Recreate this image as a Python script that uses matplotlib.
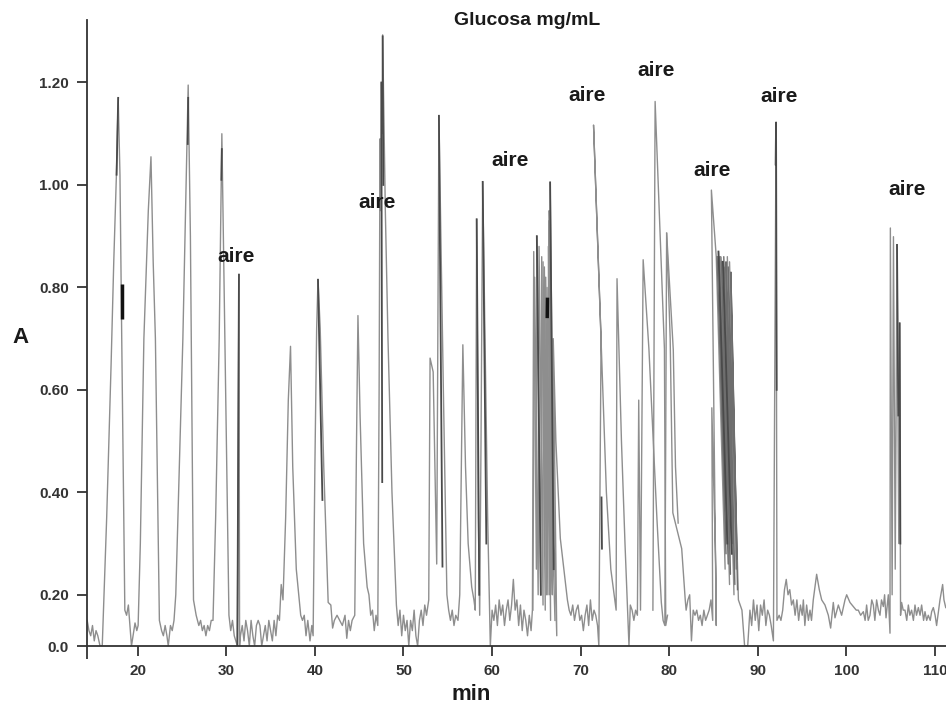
import matplotlib
matplotlib.use('Agg')
import matplotlib.pyplot as plt
import numpy as np

plt.rcParams['font.family'] = ['Liberation Sans', 'DejaVu Sans']

# chromatogram trace (min, A), split by region
trace_15_31 = [
    (14.3, 0.15), (14.5, 0.13), (14.7, 0.12), (14.9, 0.14), (15.1, 0.11), (15.3, 0.13),
    (15.5, 0.12), (15.75, 0.10), (16.0, 0.10), (16.5, 0.35), (17.0, 0.65), (17.3, 0.85),
    (17.6, 1.02), (17.8, 1.17), (18.0, 1.02), (18.2, 0.70), (18.55, 0.17), (18.75, 0.16),
    (18.95, 0.18), (19.3, 0.10), (19.7, 0.145), (19.9, 0.13), (20.05, 0.14),
    (20.3, 0.30), (20.7, 0.70), (21.2, 0.95), (21.5, 1.055), (21.75, 0.85), (22.0, 0.70),
    (22.45, 0.15), (22.7, 0.13), (22.9, 0.12), (23.1, 0.14), (23.3, 0.12), (23.45, 0.10),
    (23.7, 0.14), (23.9, 0.13), (24.1, 0.15), (24.3, 0.20),
    (24.7, 0.45), (25.1, 0.70), (25.4, 0.95), (25.7, 1.195), (25.95, 0.90), (26.05, 0.70),
    (26.3, 0.19), (26.6, 0.16), (26.9, 0.14), (27.1, 0.15), (27.3, 0.13), (27.5, 0.14),
    (27.7, 0.12), (27.9, 0.14), (28.1, 0.13), (28.3, 0.15), (28.5, 0.15),
    (28.8, 0.35), (29.2, 0.70), (29.5, 1.10), (29.8, 0.75), (30.3, 0.16), (30.5, 0.13),
    (30.7, 0.15), (30.9, 0.12), (31.25, 0.10), (31.43, 0.825), (31.5, 0.10),
]
trace_31_47 = [
    (31.6, 0.12), (31.8, 0.14), (32.0, 0.11), (32.2, 0.15), (32.4, 0.13), (32.6, 0.10),
    (32.8, 0.15), (33.0, 0.12), (33.2, 0.10), (33.4, 0.14), (33.6, 0.15), (33.8, 0.14),
    (34.0, 0.10), (34.2, 0.12), (34.4, 0.14), (34.6, 0.11), (34.8, 0.15), (35.0, 0.13),
    (35.2, 0.11), (35.4, 0.15), (35.6, 0.12), (35.8, 0.16), (36.0, 0.15), (36.2, 0.22),
    (36.4, 0.19), (36.7, 0.35), (37.0, 0.58), (37.25, 0.685), (37.5, 0.45), (37.9, 0.25),
    (38.4, 0.16), (38.6, 0.15), (38.8, 0.16), (39.0, 0.12), (39.2, 0.15), (39.45, 0.11),
    (39.65, 0.14), (39.8, 0.12),
    (40.0, 0.45), (40.2, 0.72), (40.35, 0.815), (40.6, 0.72), (41.0, 0.45), (41.5, 0.185),
    (41.8, 0.18), (42.0, 0.135), (42.2, 0.15), (42.5, 0.16), (42.8, 0.15), (43.1, 0.14),
    (43.4, 0.16), (43.6, 0.115), (43.8, 0.15), (44.0, 0.13), (44.2, 0.15), (44.5, 0.16),
    (44.7, 0.50), (44.86, 0.745), (45.1, 0.55), (45.5, 0.30), (45.9, 0.215), (46.1, 0.20),
    (46.3, 0.16), (46.5, 0.17), (46.7, 0.13), (46.9, 0.16), (47.1, 0.14),
]
trace_47_64 = [
    (47.25, 0.60), (47.35, 1.09), (47.42, 0.95), (47.52, 1.20), (47.58, 1.10), (47.65, 1.293),
    (47.95, 0.95), (48.25, 0.70), (48.7, 0.40), (49.2, 0.18),
    (49.4, 0.14), (49.6, 0.17), (49.8, 0.12), (50.0, 0.16), (50.2, 0.13), (50.4, 0.15),
    (50.6, 0.10), (50.8, 0.15), (51.0, 0.13), (51.2, 0.17), (51.4, 0.12), (51.6, 0.10),
    (51.8, 0.15), (52.0, 0.17), (52.2, 0.14), (52.4, 0.18), (52.6, 0.16), (52.85, 0.19),
    (53.0, 0.662), (53.35, 0.635), (53.75, 0.26), (54.0, 1.135), (54.5, 0.60), (54.9, 0.20),
    (55.1, 0.17), (55.3, 0.15), (55.5, 0.17), (55.7, 0.14), (55.9, 0.16), (56.15, 0.15),
    (56.35, 0.20), (56.7, 0.688), (57.0, 0.45), (57.3, 0.30), (57.7, 0.215), (57.95, 0.19),
    (58.1, 0.17), (58.26, 0.933), (58.45, 0.35), (58.6, 0.16), (58.75, 0.50), (58.94, 1.006),
    (59.2, 0.70), (59.5, 0.35), (59.8, 0.10),
    (60.0, 0.17), (60.2, 0.15), (60.4, 0.18), (60.6, 0.14), (60.8, 0.19), (61.0, 0.16),
    (61.2, 0.18), (61.4, 0.14), (61.6, 0.17), (61.8, 0.19), (62.0, 0.15), (62.2, 0.18),
    (62.4, 0.23), (62.6, 0.17), (62.8, 0.19), (63.0, 0.14), (63.2, 0.18), (63.4, 0.13),
    (63.6, 0.17), (63.8, 0.15), (64.0, 0.12), (64.2, 0.16), (64.4, 0.13), (64.55, 0.17),
]
trace_64_82 = [
    (64.7, 0.87), (65.0, 0.25), (65.05, 0.90), (65.5, 0.20), (65.6, 0.86), (66.0, 0.17),
    (65.9, 0.84), (66.3, 0.20), (66.2, 0.80), (66.6, 0.15), (66.4, 0.93), (66.7, 0.25),
    (66.55, 1.005), (67.0, 0.30), (67.3, 0.12), (66.9, 0.70), (67.2, 0.50), (67.7, 0.31),
    (68.5, 0.19), (68.7, 0.17), (68.9, 0.16), (69.1, 0.18), (69.3, 0.15), (69.5, 0.17),
    (69.7, 0.18), (69.9, 0.15), (70.1, 0.16), (70.3, 0.13), (70.5, 0.16), (70.7, 0.18),
    (70.9, 0.14), (71.1, 0.19), (71.3, 0.15), (71.5, 0.17), (71.7, 0.16), (71.9, 0.14),
    (72.05, 0.10), (72.3, 0.70), (71.45, 1.117), (72.35, 0.68), (72.9, 0.40), (73.4, 0.25),
    (73.85, 0.19), (74.0, 0.17), (74.1, 0.817), (74.6, 0.50), (75.0, 0.30), (75.45, 0.10),
    (75.6, 0.18), (75.8, 0.17), (76.0, 0.15), (76.2, 0.17), (76.4, 0.16), (76.55, 0.58),
    (76.75, 0.17), (77.05, 0.854), (77.7, 0.68), (78.6, 0.35), (79.1, 0.185), (79.3, 0.15),
    (79.5, 0.14), (79.7, 0.906), (80.1, 0.70), (80.4, 0.36), (81.4, 0.29), (81.8, 0.19),
]
trace_82_95 = [
    (81.9, 0.17), (82.1, 0.19), (82.3, 0.20), (82.5, 0.11), (82.7, 0.17), (82.9, 0.16),
    (83.1, 0.17), (83.3, 0.15), (83.5, 0.16), (83.7, 0.14), (83.9, 0.17), (84.1, 0.15),
    (84.3, 0.16), (84.5, 0.17), (84.7, 0.19), (84.9, 0.15),
    (84.8, 0.565), (85.25, 0.25), (85.3, 0.14), (84.75, 0.99), (85.3, 0.86), (86.3, 0.25),
    (85.55, 0.87), (86.55, 0.30), (85.8, 0.86), (86.8, 0.22), (86.05, 0.85), (87.05, 0.28),
    (86.3, 0.84), (87.3, 0.20), (86.55, 0.86), (87.55, 0.25), (86.8, 0.85), (87.8, 0.19),
    (88.2, 0.17), (88.5, 0.10), (88.85, 0.10), (89.1, 0.17),
    (89.3, 0.14), (89.5, 0.19), (89.7, 0.15), (89.9, 0.18), (90.1, 0.13), (90.3, 0.18),
    (90.5, 0.16), (90.7, 0.19), (90.9, 0.14), (91.1, 0.17), (91.3, 0.16), (91.5, 0.14),
    (91.75, 0.11), (92.05, 1.122), (92.15, 0.15), (92.4, 0.16), (92.6, 0.15), (92.8, 0.17),
    (93.0, 0.21), (93.2, 0.23), (93.4, 0.20), (93.6, 0.21), (93.8, 0.18), (94.0, 0.19),
    (94.2, 0.16), (94.4, 0.19), (94.6, 0.15), (94.8, 0.18),
]
trace_95_111 = [
    (95.0, 0.16), (95.13, 0.19), (95.3, 0.14), (95.5, 0.18), (95.7, 0.15), (95.88, 0.17),
    (96.05, 0.15), (96.25, 0.19), (96.63, 0.24), (96.93, 0.21), (97.2, 0.19), (97.57, 0.18),
    (97.95, 0.16), (98.21, 0.135), (98.51, 0.185), (98.7, 0.155), (99.08, 0.18), (99.45, 0.16),
    (99.83, 0.19), (100.02, 0.20), (100.39, 0.185), (100.77, 0.177), (101.1, 0.17),
    (101.33, 0.17), (101.6, 0.16), (101.9, 0.167), (102.1, 0.15), (102.27, 0.18),
    (102.45, 0.15), (102.65, 0.16), (102.85, 0.19), (103.03, 0.18), (103.2, 0.15),
    (103.4, 0.19), (103.6, 0.17), (103.78, 0.16), (103.95, 0.19), (104.16, 0.177),
    (104.3, 0.20), (104.46, 0.155), (104.72, 0.20), (104.91, 0.125),
    (104.95, 0.916), (105.15, 0.20), (105.3, 0.899), (105.5, 0.25), (105.7, 0.883),
    (105.9, 0.30), (106.0, 0.73), (106.1, 0.16), (106.22, 0.185),
    (106.4, 0.17), (106.6, 0.17), (106.8, 0.15), (106.98, 0.18), (107.15, 0.16),
    (107.35, 0.17), (107.55, 0.15), (107.73, 0.18), (107.9, 0.16), (108.11, 0.175),
    (108.3, 0.16), (108.48, 0.18), (108.7, 0.15), (108.86, 0.167), (109.05, 0.15),
    (109.23, 0.16), (109.45, 0.15), (109.61, 0.167), (109.8, 0.175), (110.0, 0.16),
    (110.17, 0.14), (110.4, 0.17), (110.55, 0.19), (110.85, 0.22), (111.0, 0.19), (111.2, 0.175),
]

# other overlaid runs (same grey)
extra_runs = [
    [(78.15, 0.17), (78.4, 1.163), (79.45, 0.68), (79.6, 0.14), (79.8, 0.16)],
    [(79.7, 0.906), (80.45, 0.678), (80.7, 0.45), (81.0, 0.34)],
    [(64.6, 0.17), (64.8, 0.82), (65.2, 0.20), (65.3, 0.88), (65.75, 0.18), (65.75, 0.85),
     (66.15, 0.20), (66.05, 0.82), (66.5, 0.20), (66.35, 0.88), (66.8, 0.20), (66.45, 0.95),
     (66.85, 0.30), (67.1, 0.15)],
]
# dense middle-grey hatch in the 85-88 min cluster
cluster_runs = [
    [(85.4, 0.86), (86.4, 0.28), (85.65, 0.86), (86.65, 0.26), (85.9, 0.85), (86.9, 0.24),
     (86.15, 0.86), (87.15, 0.30), (86.4, 0.85), (87.4, 0.22), (86.65, 0.84), (87.65, 0.27),
     (86.95, 0.83), (87.7, 0.21)],
]

# darker strokes inside peaks
dark_runs = [
    [(17.62, 1.02), (17.8, 1.17)],
    [(25.65, 1.08), (25.7, 1.17)],
    [(29.45, 1.01), (29.5, 1.07)],
    [(31.25, 0.10), (31.43, 0.825)],
    [(40.35, 0.815), (40.85, 0.385)],
    [(47.5, 1.20), (47.6, 0.42)],
    [(47.65, 1.29), (47.72, 1.00)],
    [(54.0, 1.135), (54.4, 0.255)],
    [(58.26, 0.933), (58.55, 0.20)],
    [(58.94, 1.006), (59.35, 0.30)],
    [(65.05, 0.90), (65.5, 0.20)],
    [(66.55, 1.005), (66.95, 0.25)],
    [(72.35, 0.39), (72.4, 0.29)],
    [(85.55, 0.87), (86.55, 0.30)],
    [(86.05, 0.85), (87.05, 0.28)],
    [(92.0, 1.04), (92.05, 1.122), (92.12, 0.60)],
    [(105.7, 0.883), (105.85, 0.55)],
    [(106.0, 0.73), (106.08, 0.30)],
]
black_marks = [
    [(18.19, 0.739), (18.19, 0.807)],
    [(66.22, 0.74), (66.25, 0.78)],
]

aire_pos = [(31.09, 0.861), (46.97, 0.965), (62.02, 1.047), (70.77, 1.174),
            (78.5, 1.224), (84.82, 1.029), (92.35, 1.172), (106.83, 0.992)]

xticks = [20, 30, 40, 50, 60, 70, 80, 90, 100, 110]
yticks = [0.1, 0.2, 0.4, 0.6, 0.8, 1.0, 1.2]
ylabels = ['0.0', '0.20', '0.40', '0.60', '0.80', '1.00', '1.20']

fig = plt.figure(figsize=(9.46, 7.04), dpi=100)
ax = fig.add_axes([87 / 946, 58 / 704, 859 / 946, 626 / 704])

trace = trace_15_31 + trace_31_47 + trace_47_64 + trace_64_82 + trace_82_95 + trace_95_111
t, a = zip(*trace)
ax.plot(t, a, color='#8e8e8e', lw=1.0)
for run in extra_runs:
    rt, ra = zip(*run)
    ax.plot(rt, ra, color='#8e8e8e', lw=1.0)
for run in cluster_runs:
    rt, ra = zip(*run)
    ax.plot(rt, ra, color='#6e6e6e', lw=1.0)
for run in dark_runs:
    rt, ra = zip(*run)
    ax.plot(rt, ra, color='#4a4a4a', lw=1.3)
for run in black_marks:
    rt, ra = zip(*run)
    ax.plot(rt, ra, color='#111111', lw=2.5, solid_capstyle='butt')

for x, y in aire_pos:
    ax.text(x, y, 'aire', ha='center', va='center', fontsize=15,
            fontweight='bold', color='#1a1a1a')

ax.set_xlim(14.28, 111.23)
ax.set_ylim(0.1, 1.322)

for s in ['top', 'right']:
    ax.spines[s].set_visible(False)
for s in ['left', 'bottom']:
    ax.spines[s].set_color('#333333')
    ax.spines[s].set_linewidth(1.3)

ax.set_xticks(xticks)
ax.set_xticklabels([str(v) for v in xticks], fontweight='bold')
ax.set_yticks(yticks)
ax.set_yticklabels(ylabels, fontweight='bold')
ax.set_xticks([14.28], minor=True)
ax.tick_params(axis='both', which='major', direction='out', length=7, width=1.3,
               color='#333333', labelcolor='#333333', labelsize=11, pad=6)
ax.tick_params(axis='x', which='minor', direction='out', length=9.5, width=1.3,
               color='#333333')

fig.text(527.5 / 946, 1 - 25 / 704, 'Glucosa mg/mL', ha='center', va='baseline',
         fontsize=14, fontweight='bold', color='#1a1a1a')
fig.text(471 / 946, 4 / 704, 'min', ha='center', va='baseline',
         fontsize=16, fontweight='bold', color='#1a1a1a')
fig.text(20.5 / 946, 1 - 337 / 704, 'A', ha='center', va='center',
         fontsize=16, fontweight='bold', color='#1a1a1a')

fig.savefig('out.png', dpi=100)
